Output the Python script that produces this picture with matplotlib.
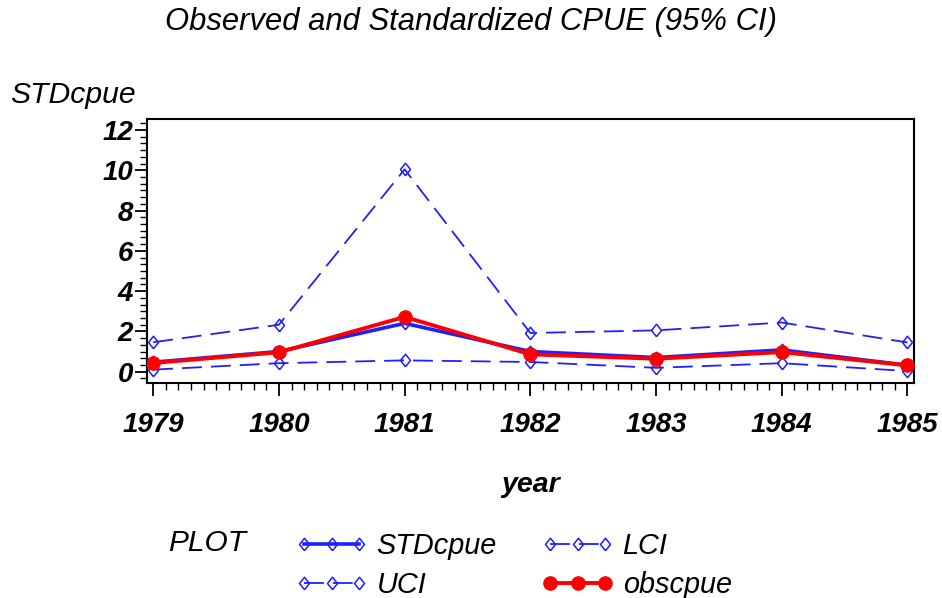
import matplotlib
matplotlib.use("Agg")
import matplotlib.pyplot as plt
from matplotlib.ticker import MultipleLocator, AutoMinorLocator

plt.rcParams['font.family'] = ['Liberation Sans', 'DejaVu Sans']

years = [1979, 1980, 1981, 1982, 1983, 1984, 1985]
std_cpue = [0.47, 1.00, 2.40, 1.00, 0.70, 1.08, 0.32]
obs_cpue = [0.43, 0.96, 2.72, 0.86, 0.64, 0.97, 0.31]
uci = [1.46, 2.33, 10.05, 1.92, 2.05, 2.44, 1.45]
lci = [0.10, 0.42, 0.56, 0.48, 0.19, 0.42, 0.03]

blue = '#1f1fff'
red = '#ff0000'
# open diamond, a little taller than wide
diamond = [(0, -1), (0.8, 0), (0, 1), (-0.8, 0), (0, -1)]

fig = plt.figure(figsize=(9.42, 5.98), dpi=100)
ax = fig.add_axes([0.156, 0.360, 0.814, 0.441])

ci_style = dict(color=blue, lw=1.3, dashes=(11, 5), marker=diamond, ms=9,
                mfc='none', mec=blue, mew=1.1)
ax.plot(years, uci, label='UCI', zorder=2, **ci_style)
ax.plot(years, lci, label='LCI', zorder=2, **ci_style)
ax.plot(years, std_cpue, color=blue, lw=2.6, marker=diamond, ms=9,
        mfc='none', mec=blue, mew=1.1, label='STDcpue', zorder=3)
ax.plot(years, obs_cpue, color=red, lw=2.8, marker='o', ms=9.5,
        label='obscpue', zorder=4)

ax.set_xlim(1978.95, 1985.05)
ax.set_ylim(-0.55, 12.55)
ax.xaxis.set_major_locator(MultipleLocator(1))
ax.xaxis.set_minor_locator(AutoMinorLocator(10))
ax.yaxis.set_major_locator(MultipleLocator(2))
ax.yaxis.set_minor_locator(AutoMinorLocator(6))
ax.tick_params(which='major', direction='out', length=9, width=1.3,
               labelsize=20, pad=1)
ax.tick_params(which='minor', direction='out', length=5, width=1.0)
ax.tick_params(axis='x', pad=12)
for lab in ax.get_xticklabels() + ax.get_yticklabels():
    lab.set_fontstyle('italic')
    lab.set_fontweight('bold')
for sp in ax.spines.values():
    sp.set_linewidth(1.5)

fig.text(0.5, 0.963, 'Observed and Standardized CPUE (95% CI)', ha='center',
         va='center', fontsize=22.3, style='italic')
fig.text(0.011, 0.841, 'STDcpue', ha='left', va='center', fontsize=21.7,
         style='italic')
fig.text(0.563, 0.189, 'year', ha='center', va='center', fontsize=20.5,
         style='italic', weight='bold')
fig.text(0.178, 0.092, 'PLOT', ha='left', va='center', fontsize=21.5,
         style='italic')

h, l = ax.get_legend_handles_labels()
order = [2, 0, 1, 3]
leg = fig.legend([h[i] for i in order], [l[i] for i in order], ncol=2,
                 loc='upper left', bbox_to_anchor=(0.314, 0.110),
                 frameon=False, fontsize=20.8, numpoints=3, handlelength=2.5,
                 handletextpad=0.3, columnspacing=1.55, labelspacing=0.36,
                 borderpad=0, borderaxespad=0)
for t in leg.get_texts():
    t.set_fontstyle('italic')

fig.savefig('out.png', dpi=100)
